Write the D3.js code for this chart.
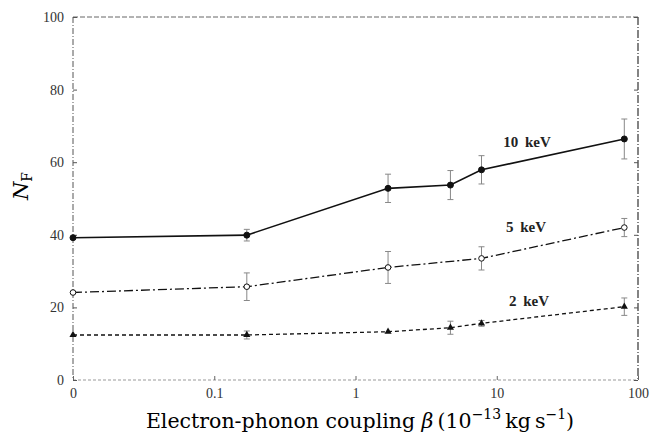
<!DOCTYPE html>
<html>
<head>
<meta charset="utf-8">
<script src="https://cdn.jsdelivr.net/npm/d3@7"></script>
<style>
  body { margin: 0; background: #fff; }
  svg { display: block; }
</style>
</head>
<body>
<svg id="chart" width="652" height="439"></svg>
<script>
// beta values, 0 is drawn at the "0" position on the left edge
var betaValues = [0, 0.17, 1.7, 4.7, 7.8, 80];
var nf10 = [39.2, 39.9, 52.8, 53.7, 57.9, 66.4];
var err10 = [0, 1.6, 3.9, 4.0, 3.9, 5.5];
var nf5 = [24.1, 25.7, 31.0, null, 33.5, 42.0];
var err5 = [0, 3.8, 4.4, 0, 3.2, 2.5];
var nf2 = [12.4, 12.4, 13.3, 14.4, 15.6, 20.2];
var err2 = [0, 1.1, 0, 1.8, 0.8, 2.4];
var seriesNames = ['10 keV', '5 keV', '2 keV'];
var xTickValues = [0, 0.1, 1, 10, 100];
var xTickLabels = ['0', '0.1', '1', '10', '100'];
var yTickValues = [0, 20, 40, 60, 80, 100];

var plotLeft = 73, plotRight = 638, plotTop = 17, plotBottom = 380;
var svg = d3.select('#chart');

var x = d3.scaleLog().domain([0.01, 100]).range([plotLeft, plotRight]);
var y = d3.scaleLinear().domain([0, 100]).range([plotBottom, plotTop]);
function xPos(b) { return x(b === 0 ? 0.01 : b); }

// frame
var frame = svg.append('g').attr('fill', 'none');
frame.append('line').attr('x1', plotLeft).attr('x2', plotRight).attr('y1', plotTop).attr('y2', plotTop)
  .attr('stroke', '#666').attr('stroke-width', 1).attr('stroke-dasharray', '5,2');
frame.append('line').attr('x1', plotLeft).attr('x2', plotRight).attr('y1', plotBottom).attr('y2', plotBottom)
  .attr('stroke', '#999').attr('stroke-width', 1).attr('stroke-dasharray', '3,2');
frame.append('line').attr('x1', plotLeft).attr('x2', plotLeft).attr('y1', plotTop).attr('y2', plotBottom)
  .attr('stroke', '#555').attr('stroke-width', 1).attr('stroke-dasharray', '6,2,1,2');
frame.append('line').attr('x1', plotRight).attr('x2', plotRight).attr('y1', plotTop).attr('y2', plotBottom)
  .attr('stroke', '#333').attr('stroke-width', 1.2).attr('stroke-dasharray', '8,2,1,2');

// y axis
var yAxis = d3.axisLeft(y).tickValues(yTickValues).tickSize(-4).tickPadding(9);
var gy = svg.append('g').attr('transform', 'translate(' + plotLeft + ',0)').call(yAxis);
gy.select('.domain').remove();
gy.selectAll('line').attr('stroke', '#555');
gy.selectAll('text').attr('font-family', 'Liberation Serif').attr('font-size', 14).attr('fill', '#333');

var yAxisR = d3.axisRight(y).tickValues(yTickValues).tickSize(-4).tickFormat('');
var gyr = svg.append('g').attr('transform', 'translate(' + plotRight + ',0)').call(yAxisR);
gyr.select('.domain').remove();
gyr.selectAll('line').attr('stroke', '#555');

// x axis
var xAxis = d3.axisBottom(x)
  .tickValues(xTickValues.map(function(v) { return v === 0 ? 0.01 : v; }))
  .tickSize(-4).tickPadding(8)
  .tickFormat(function(d, i) { return xTickLabels[i]; });
var gx = svg.append('g').attr('transform', 'translate(0,' + plotBottom + ')').call(xAxis);
gx.select('.domain').remove();
gx.selectAll('line').attr('stroke', '#666');
gx.selectAll('text').attr('font-family', 'Liberation Serif').attr('font-size', 14).attr('fill', '#333');

// series
var series = [
  { name: seriesNames[0], vals: nf10, errs: err10, dash: null, marker: 'dot', lx: 527, ly: 147 },
  { name: seriesNames[1], vals: nf5, errs: err5, dash: '9,3,2,3', marker: 'open', lx: 526, ly: 232 },
  { name: seriesNames[2], vals: nf2, errs: err2, dash: '4,3', marker: 'tri', lx: 529, ly: 306 }
];

var line = d3.line()
  .x(function(d) { return xPos(d.b); })
  .y(function(d) { return y(d.v); });

series.forEach(function(s) {
  var pts = betaValues.map(function(b, i) { return { b: b, v: s.vals[i], e: s.errs[i] }; })
    .filter(function(d) { return d.v !== null; });
  var g = svg.append('g');

  // error bars
  var eb = g.selectAll('g.err').data(pts.filter(function(d) { return d.e > 0; }))
    .enter().append('g').attr('stroke', '#888').attr('stroke-width', 1);
  eb.append('line')
    .attr('x1', function(d) { return xPos(d.b); }).attr('x2', function(d) { return xPos(d.b); })
    .attr('y1', function(d) { return y(d.v - d.e); }).attr('y2', function(d) { return y(d.v + d.e); });
  eb.append('line')
    .attr('x1', function(d) { return xPos(d.b) - 3; }).attr('x2', function(d) { return xPos(d.b) + 3; })
    .attr('y1', function(d) { return y(d.v + d.e); }).attr('y2', function(d) { return y(d.v + d.e); });
  eb.append('line')
    .attr('x1', function(d) { return xPos(d.b) - 3; }).attr('x2', function(d) { return xPos(d.b) + 3; })
    .attr('y1', function(d) { return y(d.v - d.e); }).attr('y2', function(d) { return y(d.v - d.e); });

  g.append('path').datum(pts)
    .attr('d', line)
    .attr('fill', 'none')
    .attr('stroke', '#111')
    .attr('stroke-width', s.marker === 'dot' ? 1.6 : 1.3)
    .attr('stroke-dasharray', s.dash);

  if (s.marker === 'tri') {
    g.selectAll('path.m').data(pts).enter().append('path')
      .attr('d', d3.symbol().type(d3.symbolTriangle).size(22))
      .attr('transform', function(d) { return 'translate(' + xPos(d.b) + ',' + y(d.v) + ')'; })
      .attr('fill', '#111');
  } else {
    g.selectAll('circle').data(pts).enter().append('circle')
      .attr('cx', function(d) { return xPos(d.b); })
      .attr('cy', function(d) { return y(d.v); })
      .attr('r', s.marker === 'dot' ? 3 : 2.8)
      .attr('fill', s.marker === 'dot' ? '#111' : '#fff')
      .attr('stroke', '#111').attr('stroke-width', 1);
  }

  g.append('text')
    .attr('x', s.lx).attr('y', s.ly)
    .attr('text-anchor', 'middle')
    .attr('font-family', 'Liberation Serif').attr('font-weight', 'bold')
    .attr('font-size', 15).attr('fill', '#222')
    .attr('word-spacing', 3)
    .text(s.name);
});

// y label N_F
var yl = svg.append('text')
  .attr('transform', 'translate(28,186) rotate(-90)')
  .attr('text-anchor', 'middle')
  .attr('font-family', 'DejaVu Serif').attr('font-size', 21).attr('fill', '#000');
yl.append('tspan').attr('font-style', 'italic').text('N');
yl.append('tspan').attr('font-size', 14).attr('dy', 4).text('F');

// x label
var xl = svg.append('text')
  .attr('x', 360).attr('y', 428)
  .attr('text-anchor', 'middle')
  .attr('font-family', 'DejaVu Serif').attr('font-size', 20.5).attr('fill', '#000');
xl.append('tspan').text('Electron-phonon coupling ');
xl.append('tspan').attr('font-style', 'italic').text('β');
xl.append('tspan').text('\u2009(10');
xl.append('tspan').attr('font-size', 14).attr('dy', -9).text('−13');
xl.append('tspan').attr('dy', 9).text('\u2009kg\u2009s');
xl.append('tspan').attr('font-size', 14).attr('dy', -9).text('−1');
xl.append('tspan').attr('dy', 9).text(')');
</script>
</body>
</html>
